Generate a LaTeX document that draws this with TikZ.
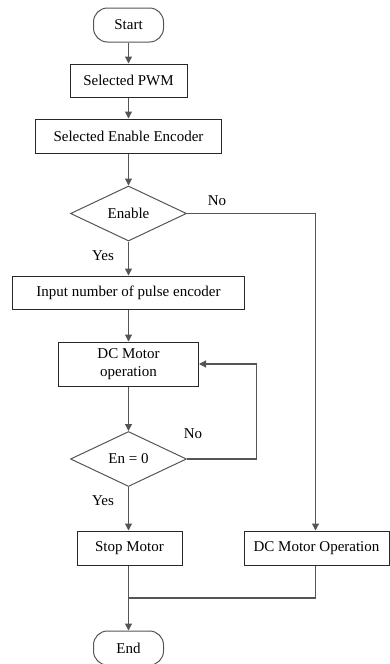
\documentclass[tikz,border=0pt]{standalone}
\usepackage{fontspec}
\setmainfont{Liberation Serif}
\usetikzlibrary{arrows.meta,shapes.geometric}
\definecolor{linec}{RGB}{85,85,85}
\definecolor{boxc}{RGB}{40,40,40}
\begin{document}
\begin{tikzpicture}[x=1pt,y=-1pt,
  every node/.style={font=\fontsize{15}{17}\selectfont, inner sep=0pt},
  box/.style={draw=boxc, line width=1pt, rectangle, align=center},
  term/.style={draw=linec, line width=1pt, rectangle, rounded corners=14pt, minimum width=70pt, minimum height=34pt},
  dec/.style={draw=linec, line width=1pt, diamond, aspect=1, minimum width=116pt, minimum height=55pt},
  conn/.style={draw=linec, line width=1.1pt},
  arr/.style={conn, -{Triangle[length=7pt,width=7pt]}},
  lbl/.style={font=\fontsize{15}{17}\selectfont}
]
\useasboundingbox (0,0) rectangle (390,664);
\node[term] (start) at (128.5,25) {Start};
\node[box, minimum width=117pt, minimum height=33pt] (pwm) at (128.5,80.5) {Selected PWM};
\node[box, minimum width=186pt, minimum height=34pt] (enc) at (128.5,136) {Selected Enable Encoder};
\node[dec] (en) at (128.5,213.5) {Enable};
\node[box, minimum width=232pt, minimum height=33pt] (inp) at (128.5,292.5) {Input number of pulse encoder};
\node[box, minimum width=140pt, minimum height=44pt] (dcm) at (128.5,364) {DC Motor\\[1pt]operation};
\node[dec] (en0) at (128.5,459) {En = 0};
\node[box, minimum width=105pt, minimum height=34pt] (stop) at (129.5,548) {Stop Motor};
\node[box, minimum width=145pt, minimum height=34pt] (dco) at (316.5,548) {DC Motor Operation};
\node[term] (end) at (128.5,648) {End};
\coordinate (fb) at (256.5,459);
\coordinate (merge) at (128.5,598);
\coordinate (rt) at (315.5,213.5);
% connectors
\draw[arr] (start) -- (pwm);
\draw[arr] (pwm) -- (enc);
\draw[arr] (enc) -- (en);
\draw[arr] (en) -- (inp);
\draw[arr] (inp) -- (dcm);
\draw[arr] (dcm) -- (en0);
\draw[arr] (en0.south) -- (stop.north -| en0.south);
\draw[conn] (en0.east) -- (fb);
\draw[arr] (fb) |- (dcm.east);
\draw[conn] (en.east) -- (rt);
\draw[arr] (rt) -- (rt |- dco.north);
\draw[conn] (dco.south -| rt) |- (merge);
\draw[conn] (stop.south -| merge) -- (merge);
\draw[arr] (merge) -- (end);
% labels
\node[lbl] (no1) at (217,201) {No};
\node[lbl] (yes1) at (103,256) {Yes};
\node[lbl] (no2) at (193,434) {No};
\node[lbl] (yes2) at (103,501) {Yes};
\end{tikzpicture}
\end{document}
